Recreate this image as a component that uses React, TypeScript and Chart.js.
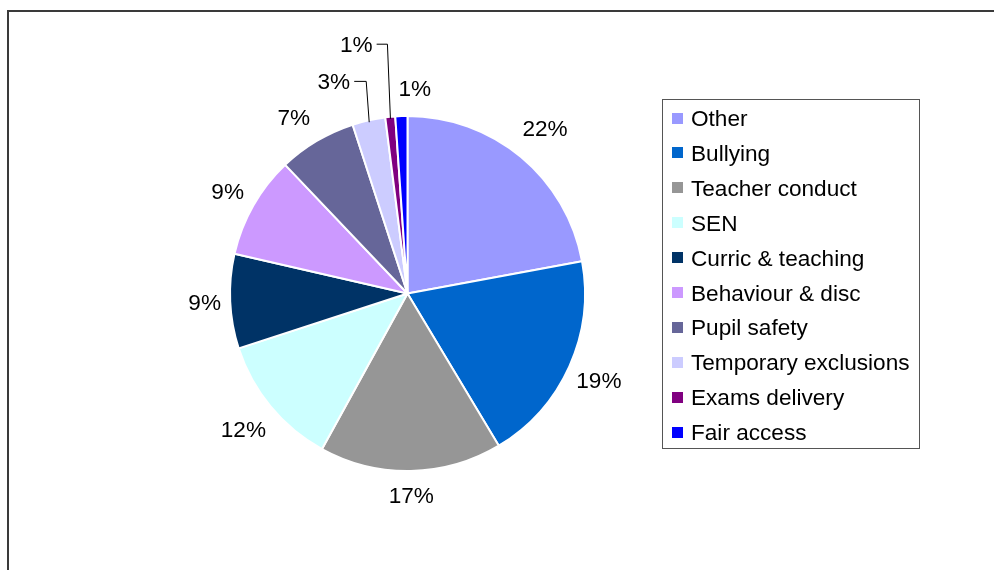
import React, { useEffect, useRef } from "react";
import { Chart, registerables } from "chart.js";

Chart.register(...registerables);

// ---- data ----
const CATEGORIES = [
  "Other",
  "Bullying",
  "Teacher conduct",
  "SEN",
  "Curric & teaching",
  "Behaviour & disc",
  "Pupil safety",
  "Temporary exclusions",
  "Exams delivery",
  "Fair access",
];
const SHARES = [22.1, 19.3, 16.6, 12.0, 8.6, 9.3, 7.1, 3.0, 0.9, 1.1];
const COLORS = [
  "#9999FF",
  "#0066CC",
  "#969696",
  "#CCFFFF",
  "#003366",
  "#CC99FF",
  "#666699",
  "#CCCCFF",
  "#800080",
  "#0000FF",
];

// ---- layout (not data) ----
const LABEL_RADIUS = [215, 210, 202, 213, 203, 207, 210, 225, 255, 206];
const LABEL_ANGLE_SHIFT_DEG = [0, 0, 0, 0, 0, 0, -2, -6.5, -6, 4];
const LABEL_LEADER = [false, false, false, false, false, false, false, true, true, false];
const FONT = "22.6px 'Liberation Sans', Arial, sans-serif";

const framePlugin = {
  id: "frame",
  beforeDraw(chart: any) {
    const ctx = chart.ctx;
    ctx.save();
    ctx.fillStyle = "#ffffff";
    ctx.fillRect(0, 0, chart.width, chart.height);
    ctx.strokeStyle = "#3a3a3a";
    ctx.lineWidth = 2;
    ctx.strokeRect(8, 11, 1200, 800);
    ctx.restore();
  },
};

const labelPlugin = {
  id: "pctLabels",
  afterDatasetsDraw(chart: any) {
    const ctx = chart.ctx;
    const meta = chart.getDatasetMeta(0);
    const data: number[] = chart.data.datasets[0].data;
    const total = data.reduce((a, b) => a + b, 0);
    ctx.save();
    ctx.font = FONT;
    ctx.fillStyle = "#000000";
    ctx.textAlign = "center";
    ctx.textBaseline = "alphabetic";
    meta.data.forEach((arc: any, i: number) => {
      const p = arc.getProps(["x", "y", "startAngle", "endAngle", "outerRadius"], true);
      const mid = (p.startAngle + p.endAngle) / 2;
      const a = mid + (LABEL_ANGLE_SHIFT_DEG[i] * Math.PI) / 180;
      const lx = p.x + Math.cos(a) * LABEL_RADIUS[i];
      const ly = p.y + Math.sin(a) * LABEL_RADIUS[i];
      const txt = Math.round((data[i] / total) * 100) + "%";
      ctx.fillText(txt, lx, ly + 8);
      if (LABEL_LEADER[i]) {
        const w = ctx.measureText(txt).width;
        const ax = p.x + Math.cos(mid) * (p.outerRadius - 2);
        const ay = p.y + Math.sin(mid) * (p.outerRadius - 2);
        ctx.beginPath();
        ctx.strokeStyle = "#000000";
        ctx.lineWidth = 1;
        ctx.moveTo(lx + w / 2 + 4, ly + 0.5);
        ctx.lineTo(ax - 3, ly + 0.5);
        ctx.lineTo(ax, ay);
        ctx.stroke();
      }
    });
    ctx.restore();
  },
};

const legendPlugin = {
  id: "boxLegend",
  afterDraw(chart: any) {
    const ctx = chart.ctx;
    const left = 662.5;
    const top = 99.5;
    const w = 257;
    const h = 349;
    const rowH = 34.9;
    const firstRow = 118;
    ctx.save();
    ctx.strokeStyle = "#555555";
    ctx.lineWidth = 1;
    ctx.strokeRect(left, top, w, h);
    ctx.font = FONT;
    ctx.textAlign = "left";
    ctx.textBaseline = "alphabetic";
    CATEGORIES.forEach((name, i) => {
      const cy = firstRow + i * rowH;
      ctx.fillStyle = COLORS[i];
      ctx.fillRect(672, Math.round(cy - 5.5), 11, 11);
      ctx.fillStyle = "#000000";
      ctx.fillText(name, 691, cy + 8);
    });
    ctx.restore();
  },
};

export default function App() {
  const ref = useRef<HTMLCanvasElement>(null);
  useEffect(() => {
    document.body.style.margin = "0";
    document.body.style.overflow = "hidden";
    if (!ref.current) return;
    const chart = new Chart(ref.current, {
      type: "pie",
      data: {
        labels: CATEGORIES,
        datasets: [
          {
            data: SHARES,
            backgroundColor: COLORS,
            borderColor: "#ffffff",
            borderWidth: 2,
          },
        ],
      },
      options: {
        animation: false,
        responsive: false,
        devicePixelRatio: 1,
        layout: { padding: { left: 229, right: 408, top: 115, bottom: 98 } },
        plugins: {
          legend: { display: false },
          tooltip: { enabled: false },
          title: { display: false },
        },
      },
      plugins: [framePlugin, labelPlugin, legendPlugin],
    });
    return () => chart.destroy();
  }, []);
  return (
    <canvas
      ref={ref}
      width={994}
      height={570}
      style={{ display: "block", width: 994, height: 570 }}
    />
  );
}
